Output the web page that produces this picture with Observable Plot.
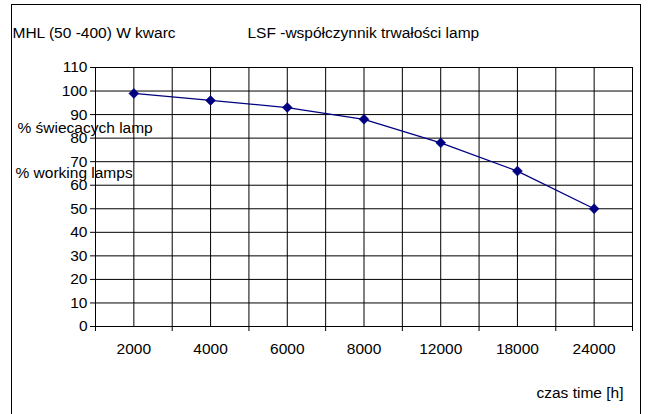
<!DOCTYPE html>
<html>
<head>
<meta charset="utf-8">
<script src="https://cdn.jsdelivr.net/npm/d3@7"></script>
<script src="https://cdn.jsdelivr.net/npm/@observablehq/plot@0.6"></script>
<style>
  html, body { margin: 0; padding: 0; background: #fff; }
  #wrap { position: relative; width: 649px; height: 414px; overflow: hidden; }
  #border { position: absolute; left: 11px; top: 4px; width: 630px; height: 440px; border: 1px solid #000; box-sizing: border-box; pointer-events: none; }
</style>
</head>
<body>
<div id="wrap"><div id="border"></div></div>
<script>
const categories = ["2000", "4000", "6000", "8000", "12000", "18000", "24000"];
const values = [99, 96, 93, 88, 78, 66, 50];
const yTicks = [0, 10, 20, 30, 40, 50, 60, 70, 80, 90, 100, 110];
const titleLeft = "MHL (50 -400) W kwarc";
const titleRight = "LSF -współczynnik trwałości lamp";
const yLabel1 = "% świecacych lamp";
const yLabel2 = "% working lamps";
const xLabel = "czas time [h]";

const data = categories.map((c, i) => ({i, c, v: values[i]}));
const centers = categories.map((c, i) => i);
const bounds = d3.range(0, categories.length + 1).map(k => k - 0.5);
const font = "'Liberation Sans', Arial, Helvetica, sans-serif";
const fs = 15.5;

const chart = Plot.plot({
  width: 649,
  height: 414,
  marginLeft: 95,
  marginRight: 17,
  marginTop: 67,
  marginBottom: 88,
  style: {fontFamily: font, fontSize: fs + "px", background: "transparent", color: "#000"},
  x: {type: "linear", domain: [-0.5, categories.length - 0.5]},
  y: {domain: [0, 110]},
  marks: [
    Plot.gridY(yTicks, {stroke: "#000", strokeOpacity: 1, strokeWidth: 1}),
    Plot.gridX(centers, {stroke: "#000", strokeOpacity: 1, strokeWidth: 1}),
    Plot.gridX(bounds, {stroke: "#000", strokeOpacity: 1, strokeWidth: 1}),
    Plot.axisY({ticks: yTicks, tickSize: 5, tickPadding: 3, label: null, fontSize: fs}),
    Plot.axisX({ticks: bounds, tickSize: 5, tickFormat: () => "", label: null}),
    Plot.axisX({ticks: centers, tickSize: 0, tickPadding: 16, tickFormat: i => categories[i], label: null, fontSize: fs}),
    Plot.ruleY([0], {stroke: "#000"}),
    Plot.line(data, {x: "i", y: "v", stroke: "#000080", strokeWidth: 1.3}),
    Plot.dot(data, {x: "i", y: "v", symbol: "diamond2", fill: "#000080", stroke: "#000080", r: 4.5, strokeWidth: 0.5}),
    Plot.text([titleLeft], {frameAnchor: "top-left", dx: -83, dy: -41, text: d => d, textAnchor: "start", fontSize: fs}),
    Plot.text([titleRight], {frameAnchor: "top-left", dx: 152, dy: -41, text: d => d, textAnchor: "start", fontSize: fs}),
    Plot.text([yLabel1], {frameAnchor: "top-left", dx: -78, dy: 54, text: d => d, textAnchor: "start", fontSize: fs}),
    Plot.text([yLabel2], {frameAnchor: "top-left", dx: -80, dy: 99, text: d => d, textAnchor: "start", fontSize: fs}),
    Plot.text([xLabel], {frameAnchor: "bottom-right", dx: -9, dy: 71, text: d => d, textAnchor: "end", fontSize: fs})
  ]
});
document.getElementById("wrap").prepend(chart);
</script>
</body>
</html>
